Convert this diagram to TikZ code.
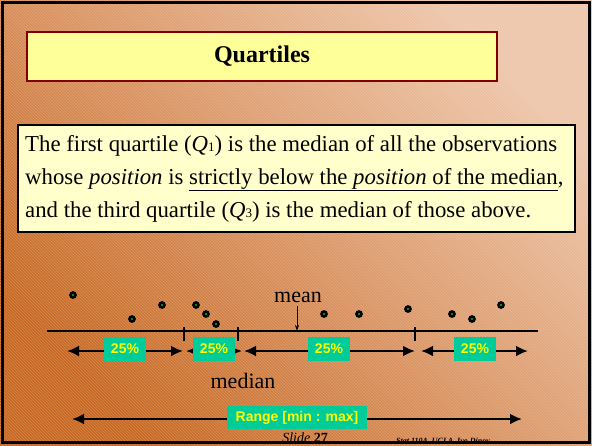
\documentclass[tikz,border=0pt]{standalone}
\usepackage{fontspec}
\setmainfont{Liberation Serif}
\newfontfamily\arialfont{Liberation Sans}
\usetikzlibrary{arrows.meta,patterns}
\definecolor{bgdark}{RGB}{200,104,34}
\definecolor{bglight}{RGB}{238,198,170}
\definecolor{titlefill}{RGB}{255,255,153}
\definecolor{titleedge}{RGB}{128,0,0}
\definecolor{textfill}{RGB}{255,255,204}
\definecolor{tealbox}{RGB}{0,204,153}
\definecolor{yel}{RGB}{255,255,0}
\definecolor{dotgreen}{RGB}{0,200,0}
\tikzset{
  pct/.style={fill=tealbox, text=yel, font=\arialfont\fontsize{14}{14}\selectfont\bfseries, inner sep=0pt, minimum width=42pt, minimum height=24pt},
  obs/.style={circle, draw=black, fill=dotgreen, line width=2.6pt, minimum size=5pt, inner sep=0pt},
  dbl/.style={line width=2.6pt, {Latex[length=12pt,width=11pt]}-{Latex[length=12pt,width=11pt]}},
  axis/.style={line width=2.8pt},
  tick/.style={line width=2.6pt},
  body/.style={font=\fontsize{22.8}{22.8}\selectfont, anchor=base west, inner sep=0pt},
  lbl/.style={font=\fontsize{22}{22}\selectfont, inner sep=0pt}
}
\begin{document}
\begin{tikzpicture}[x=1pt,y=-1pt]
\useasboundingbox (0,0) rectangle (592,445);
\shade[bottom color=bgdark, top color=bglight, shading angle=-45] (0,0) rectangle (592,445);
\fill[pattern=north west lines, pattern color=white, opacity=0.2] (0,0) rectangle (592,445);
\draw[line width=3pt] (2,2) rectangle (589,442);

% title
\node[draw=titleedge, line width=2pt, fill=titlefill, minimum width=470pt, minimum height=49pt, inner sep=0pt,
      font=\fontsize{24}{24}\selectfont\bfseries] (title) at (262,56) {Quartiles};

% definition box
\node[draw=black, line width=1.2pt, fill=textfill, minimum width=557pt, minimum height=107pt, inner sep=0pt] (defbox) at (296.5,178.5) {};
\node[body] (l1) at (25,151) {The first quartile (\textit{Q}{\fontsize{13}{13}\selectfont 1}) is the median of all the observations};
\node[body] (l2) at (25,184) {whose \textit{position} is \underline{strictly below the \textit{position} of the median},};
\node[body] (l3) at (25,217) {and the third quartile (\textit{Q}{\fontsize{13}{13}\selectfont 3}) is the median of those above.};

% axis
\coordinate (axL) at (47,331);
\coordinate (axR) at (538,331);
\draw[axis] (axL) -- (axR);
\coordinate (t1) at (184,327); \coordinate (t1b) at (184,341);
\coordinate (t2) at (238,327); \coordinate (t2b) at (238,341);
\coordinate (t3) at (415,327); \coordinate (t3b) at (415,341);
\draw[tick] (t1) -- (t1b);
\draw[tick] (t2) -- (t2b);
\draw[tick] (t3) -- (t3b);

% mean
\node[lbl] (mean) at (298,297) {mean};
\coordinate (meanpt) at (297,331);
\coordinate (meantop) at (297,306);
\draw[line width=0.9pt, -{Stealth[length=6pt,width=4pt]}] (meantop) -- (meanpt);

% dots
\node[obs] (d1) at (73,295) {};
\node[obs] (d2) at (132,319) {};
\node[obs] (d3) at (162,305) {};
\node[obs] (d4) at (196,305) {};
\node[obs] (d5) at (206,314) {};
\node[obs] (d6) at (216,324) {};
\node[obs] (d7) at (324,314) {};
\node[obs] (d8) at (359,314) {};
\node[obs] (d9) at (408,309) {};
\node[obs] (d10) at (452,314) {};
\node[obs] (d11) at (472,319) {};
\node[obs] (d12) at (501,305) {};

% quartile arrows
\coordinate (a1L) at (67,351); \coordinate (a1R) at (183,351);
\coordinate (a2L) at (186,351); \coordinate (a2R) at (242,351);
\coordinate (a3L) at (244,351); \coordinate (a3R) at (415,351);
\coordinate (a4L) at (421,351); \coordinate (a4R) at (528,351);
\draw[dbl] (a1L) -- (a1R);
\draw[dbl] (a2L) -- (a2R);
\draw[dbl] (a3L) -- (a3R);
\draw[dbl] (a4L) -- (a4R);
\node[pct] (p1) at (125,349) {25\%};
\node[pct] (p2) at (214,349) {25\%};
\node[pct] (p3) at (329,349) {25\%};
\node[pct] (p4) at (475,349) {25\%};

\node[lbl] (median) at (243,381) {median};

% range
\coordinate (rL) at (72,419);
\coordinate (rR) at (522,419);
\draw[dbl] (rL) -- (rR);
\node[pct, minimum width=140pt, minimum height=23pt] (range) at (297,417.5) {Range [min : max]};

% footer
\node[font=\fontsize{14}{14}\selectfont, inner sep=0pt, anchor=base] (slide) at (305,442) {\textit{Slide} \textbf{27}};
\node[font=\fontsize{8}{8}\selectfont\bfseries\itshape, inner sep=0pt, anchor=base] (stat) at (443,443) {Stat 110A, UCLA, Ivo Dinov};
\draw[line width=3pt] (2,442) -- (589,442);
\end{tikzpicture}
\end{document}
